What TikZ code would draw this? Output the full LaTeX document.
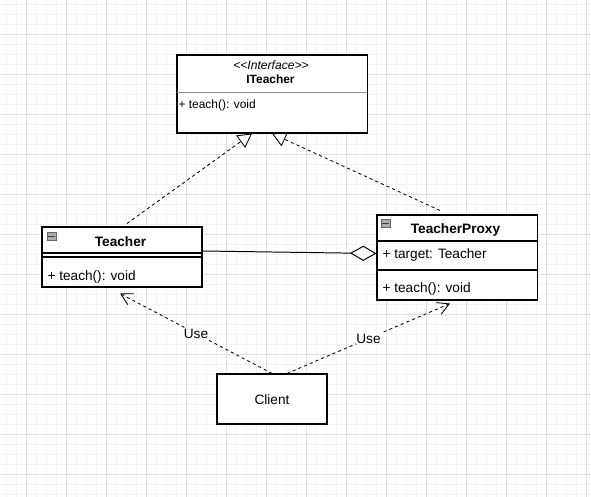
\documentclass[tikz,border=0pt]{standalone}
\usepackage{fontspec}
\setmainfont{Liberation Sans}
\definecolor{gmaj}{HTML}{DEDEDE}
\definecolor{gmin}{HTML}{F3F3F3}
\definecolor{icn}{HTML}{A9ABB2}
\definecolor{sepg}{HTML}{8C8C8C}
\usetikzlibrary{arrows.meta}
\usetikzlibrary{calc}

\tikzset{
	classbox/.style={draw, line width=0.75pt, inner sep=0pt, fill=white},
	bigtxt/.style={inner sep=0pt, font=\fontsize{9.7}{11}\selectfont},
	smalltxt/.style={inner sep=0pt, font=\fontsize{8.5}{10}\selectfont},
	membtxt/.style={bigtxt, anchor=west},
	iconbox/.style={draw=black!60, fill=icn, line width=0.5pt, minimum width=0.225cm, minimum height=0.2cm, inner sep=0pt},
	dashline/.style={line width=0.6pt, dash pattern=on 2.2pt off 2.2pt},
	realize/.style={dashline, -{Triangle[open, length=3.5mm, width=3.8mm]}},
	uses/.style={dashline, -{Straight Barb[length=2.8mm, width=3.1mm]}},
	aggr/.style={line width=0.7pt, -{Diamond[open, length=6.6mm, width=3.8mm]}}
}

\begin{document}
\begin{tikzpicture}[x=0.025cm, y=-0.025cm]
			\useasboundingbox (0,0) rectangle (591,497);
			\fill[white] (0,0) rectangle (591,497);

			\foreach \g in {6.7,16.7,...,591} \draw[gmin, line width=0.7pt] (\g,0) -- (\g,497);
			\foreach \g in {4.3,14.3,...,497} \draw[gmin, line width=0.7pt] (0,\g) -- (591,\g);
			\foreach \g in {26.7,66.7,...,591} \draw[gmaj, line width=0.7pt] (\g,0) -- (\g,497);
			\foreach \g in {34.3,74.3,...,497} \draw[gmaj, line width=0.7pt] (0,\g) -- (591,\g);

			\node[classbox, minimum width=4.75cm, minimum height=1.95cm] (it) at (272,94) {};
			\draw[sepg, line width=0.6pt] (177,92) -- (367,92);
			\node[smalltxt, font=\fontsize{8.6}{10}\selectfont\itshape] (itster) at (271,65.5) {<\kern0pt<Interface>\kern0pt>};
			\node[smalltxt, font=\fontsize{8.5}{10}\selectfont\bfseries] (itname) at (270.5,79) {ITeacher};
			\node[smalltxt, anchor=west] (itop) at (178.3,105) {+ teach(): void};

			\node[classbox, minimum width=4cm, minimum height=1.5cm] (tch) at (122,257) {};
			\draw[line width=0.75pt] (42,253) -- (202,253);
			\draw[line width=0.75pt] (42,257) -- (202,257);
			\node[iconbox] (tchicn) at (51.5,236) {};
			\draw[black!75, line width=0.6pt] ([xshift=0.04cm]tchicn.west) -- ([xshift=-0.04cm]tchicn.east);
			\node[bigtxt, font=\fontsize{9.7}{11}\selectfont\bfseries] (tchname) at (120.5,242) {Teacher};
			\node[membtxt] (tchop) at (47.3,276.5) {+ teach(): void};

			\node[classbox, minimum width=4cm, minimum height=2.125cm] (tp) at (457,257.5) {};
			\draw[line width=0.75pt] (377,241) -- (537,241);
			\draw[line width=0.75pt] (377,270) -- (537,270);
			\node[iconbox] (tpicn) at (385.5,223) {};
			\draw[black!75, line width=0.6pt] ([xshift=0.04cm]tpicn.west) -- ([xshift=-0.04cm]tpicn.east);
			\node[bigtxt, font=\fontsize{9.7}{11}\selectfont\bfseries] (tpname) at (455.5,229.5) {TeacherProxy};
			\node[membtxt] (tpattr) at (382.3,255) {+ target: Teacher};
			\node[membtxt] (tpop) at (382.3,289) {+ teach(): void};

			\node[classbox, minimum width=2.75cm, minimum height=1.25cm] (cl) at (272,399) {};
			\node[bigtxt] (clname) at (272,399.5) {Client};

			\draw[realize] ([xshift=0.125cm, yshift=0.075cm]tch.north) -- ([xshift=-0.5cm]it.south);
			\draw[realize] ([xshift=-0.425cm, yshift=0.1cm]tp.north) -- (it.south);

			\draw[aggr] ([yshift=0.15cm]tch.east) -- ([yshift=0.1cm]tp.west);

			\draw[uses] (cl.north) -- ([xshift=-0.05cm, yshift=-0.15cm]tch.south) node[midway, fill=white, bigtxt, inner sep=0.5pt] (use1) {Use};
			\draw[uses] ([xshift=0.375cm]cl.north) -- ([xshift=-0.175cm, yshift=-0.075cm]tp.south) node[midway, fill=white, bigtxt, inner sep=0.5pt] (use2) {Use};
		\end{tikzpicture}
\end{document}
